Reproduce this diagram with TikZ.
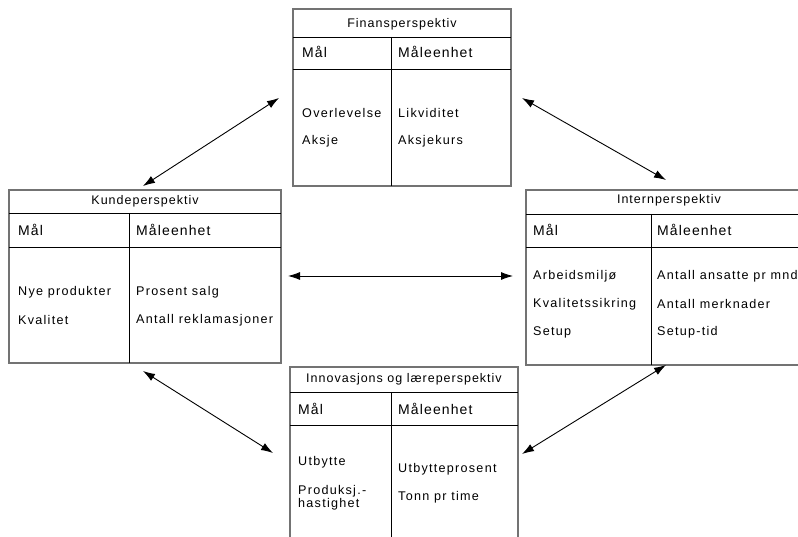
\documentclass[tikz,border=0pt]{standalone}
\usepackage{fontspec}
\setmainfont{Liberation Sans}[LetterSpace=8]
\newfontfamily\itemfont{Liberation Sans}[LetterSpace=10]
\usetikzlibrary{arrows.meta}
\begin{document}
\begin{tikzpicture}[x=1pt,y=-1pt,
  frame/.style={draw=black!55,line width=1.3pt,fill=white},
  rule/.style={draw=black,line width=0.9pt},
  ttl/.style={inner sep=0pt,font=\fontsize{12.5}{14}\selectfont},
  hdr/.style={inner sep=0pt,anchor=west,font=\fontsize{14}{16}\selectfont},
  itm/.style={inner sep=0pt,anchor=west,align=left,font=\itemfont\fontsize{12.6}{12.6}\selectfont},
  link/.style={line width=0.9pt,{Latex[length=12pt,width=8pt]}-{Latex[length=12pt,width=8pt]}}]
\useasboundingbox (0,0) rectangle (798,537);
\clip (0,0) rectangle (798,537);

% Finansperspektiv
\draw[frame] (293,9) rectangle (511,186);
\draw[rule] (293,37) -- (511,37) (293,69) -- (511,69) (391,37) -- (391,186);
\node[ttl] (finT) at (402,24) {Finansperspektiv};
\node[hdr] (finM) at (302,52) {Mål};
\node[hdr] (finE) at (398,52) {Måleenhet};
\node[itm] (fin1) at (302,113) {Overlevelse};
\node[itm] (fin2) at (302,141) {Aksje};
\node[itm] (fin3) at (398,113) {Likviditet};
\node[itm] (fin4) at (398,141) {Aksjekurs};

% Kundeperspektiv
\draw[frame] (9,190) rectangle (281,363);
\draw[rule] (9,213) -- (281,213) (9,247) -- (281,247) (129,213) -- (129,363);
\node[ttl] (kunT) at (145,201.5) {Kundeperspektiv};
\node[hdr] (kunM) at (18,230) {Mål};
\node[hdr] (kunE) at (136,230) {Måleenhet};
\node[itm] (kun1) at (18,292) {Nye produkter};
\node[itm] (kun2) at (18,320) {Kvalitet};
\node[itm] (kun3) at (136,292) {Prosent salg};
\node[itm] (kun4) at (136,320) {Antall reklamasjoner};

% Internperspektiv (continues past the right edge)
\draw[frame] (526,190) rectangle (812,365);
\draw[rule] (526,214) -- (812,214) (526,247) -- (812,247) (651,214) -- (651,365);
\node[ttl] (intT) at (669,200) {Internperspektiv};
\node[hdr] (intM) at (533,230) {Mål};
\node[hdr] (intE) at (657,230) {Måleenhet};
\node[itm] (int1) at (533,276.5) {Arbeidsmiljø};
\node[itm] (int2) at (533,304) {Kvalitetssikring};
\node[itm] (int3) at (533,332) {Setup};
\node[itm] (int4) at (657,276.5) {Antall ansatte pr mnd};
\node[itm] (int5) at (657,304) {Antall merknader};
\node[itm] (int6) at (657,332) {Setup-tid};

% Innovasjons og læreperspektiv (continues past the bottom edge)
\draw[frame] (290,367) rectangle (518,560);
\draw[rule] (290,392) -- (518,392) (290,425) -- (518,425) (391,392) -- (391,560);
\node[ttl] (innT) at (404,379) {Innovasjons og læreperspektiv};
\node[hdr] (innM) at (298,409) {Mål};
\node[hdr] (innE) at (398,409) {Måleenhet};
\node[itm] (inn1) at (298,462) {Utbytte};
\node[itm] (inn2) at (298,498) {Produksj.-\\hastighet};
\node[itm] (inn3) at (398,469) {Utbytteprosent};
\node[itm] (inn4) at (398,497) {Tonn pr time};

% arrow end points
\coordinate (a1) at (279,98);
\coordinate (a2) at (143,186);
\coordinate (b1) at (522,98);
\coordinate (b2) at (666,180);
\coordinate (c1) at (288,276);
\coordinate (c2) at (513,276);
\coordinate (d1) at (143,371);
\coordinate (d2) at (273,453);
\coordinate (e1) at (666,365);
\coordinate (e2) at (522,454);

\draw[link] (a1) -- (a2);
\draw[link] (b1) -- (b2);
\draw[link] (c1) -- (c2);
\draw[link] (d1) -- (d2);
\draw[link] (e1) -- (e2);
\end{tikzpicture}
\end{document}
